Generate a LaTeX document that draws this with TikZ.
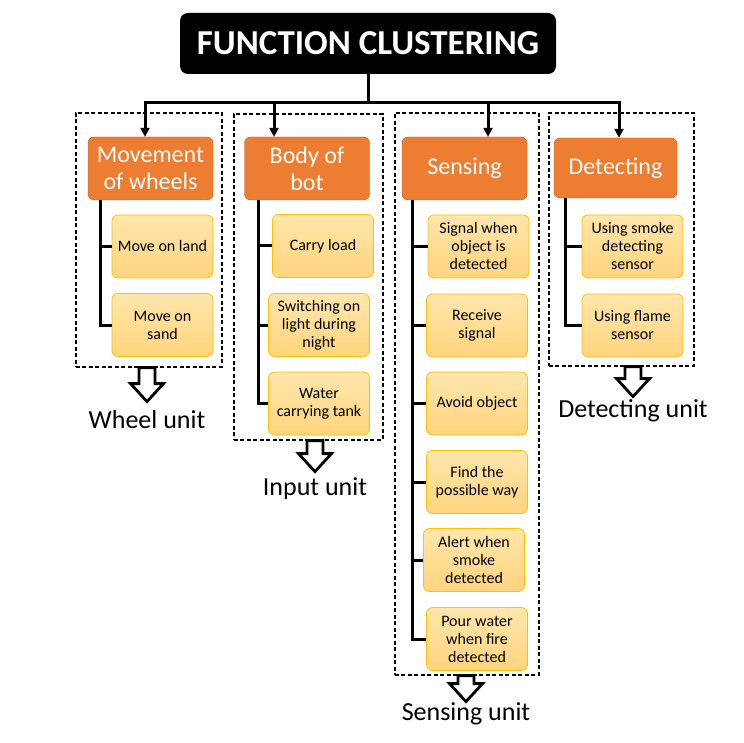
\documentclass[tikz,border=0pt]{standalone}
\usepackage{fontspec}
\setmainfont{Carlito}
\usetikzlibrary{arrows.meta, positioning, calc}
\definecolor{headorange}{RGB}{237, 125, 49}
\definecolor{headedge}{RGB}{197, 90, 17}
\definecolor{itemedge}{RGB}{255, 192, 0}
\definecolor{itemtop}{RGB}{255, 230, 172}
\definecolor{itembot}{RGB}{255, 212, 125}

\begin{document}
\begin{tikzpicture}[x=1pt, y=-1pt,
  title/.style={fill=black, rounded corners=8pt, text=white, font=\fontsize{35}{40}\selectfont\bfseries, minimum width=376pt, minimum height=61pt, inner sep=0pt},
  head/.style={draw=headedge, fill=headorange, rounded corners=6pt, text=white, font=\fontsize{24}{27}\selectfont, minimum width=125pt, minimum height=63pt, align=center, inner sep=0pt},
  item/.style={draw=itemedge, line width=0.8pt, top color=itemtop, bottom color=itembot, rounded corners=6pt, font=\fontsize{16}{18}\selectfont, minimum width=101pt, minimum height=63pt, align=center, inner sep=0pt},
  group/.style={draw, line width=1.6pt, dash pattern=on 4pt off 2.5pt, inner sep=0pt, anchor=north west},
  unit/.style={font=\fontsize{26}{30}\selectfont},
  feed/.style={line width=3pt},
  spine/.style={line width=3pt},
  blockarrow/.style={draw, fill=white, line width=2.8pt, line join=miter}
]
  \useasboundingbox (0, 0) rectangle (744, 743);

  % Title
  \node[title] (title) at (368, 43.5) {FUNCTION CLUSTERING};
  \coordinate (bus) at (368, 103);

  % Dashed groups
  \node[group, minimum width=146pt, minimum height=254pt] (g1) at (75, 112) {};
  \node[group, minimum width=149pt, minimum height=326pt] (g2) at (233, 113) {};
  \node[group, minimum width=144pt, minimum height=562pt] (g3) at (394, 112) {};
  \node[group, minimum width=145pt, minimum height=253pt] (g4) at (548, 112) {};

  % Headers
  \node[head] (wheels) at (150.5, 168.5) {Movement\\of wheels};
  \node[head] (body) at (307, 168.5) {Body of\\bot};
  \node[head] (sensing) at (464.5, 168.5) {Sensing};
  \node[head, minimum width=123pt, minimum height=60pt] (detecting) at (615.5, 168) {Detecting};

  % Wheel items
  \node[item] (land) at (162.5, 246.5) {Move on land};
  \node[item] (sand) at (162.5, 325) {Move on\\sand};

  % Body items
  \node[item] (load) at (323, 246) {Carry load};
  \node[item] (light) at (319, 325) {Switching on\\light during\\night};
  \node[item] (tank) at (319, 403.5) {Water\\carrying tank};

  % Sensing items
  \node[item] (signal) at (478.5, 246.5) {Signal when\\object is\\detected};
  \node[item] (receive) at (477, 325.5) {Receive\\signal};
  \node[item] (avoid) at (477, 403.5) {Avoid object};
  \node[item] (way) at (477, 482) {Find the\\possible way};
  \node[item] (alert) at (474, 560) {Alert when\\smoke\\detected};
  \node[item] (pour) at (477, 639) {Pour water\\when fire\\detected};

  % Detecting items
  \node[item] (smoke) at (632.5, 246.5) {Using smoke\\detecting\\sensor};
  \node[item] (flame) at (632.5, 325.5) {Using flame\\sensor};

  % Unit labels
  \node[unit] (wheelunit) at (147, 420) {Wheel unit};
  \node[unit] (inputunit) at (315, 489) {Input unit};
  \node[unit] (sensingunit) at (466, 714) {Sensing unit};
  \node[unit] (detectingunit) at (633, 411) {Detecting unit};

  % Title feeds
  \coordinate (f1) at ([xshift=-5.5pt]wheels.north);
  \coordinate (f2) at ([xshift=-33pt]body.north);
  \coordinate (f3) at ([xshift=23.5pt]sensing.north);
  \coordinate (f4) at ([xshift=3.5pt]detecting.north);
  \draw[feed] (title.south) -- (bus);
  \draw[feed, line cap=rect] (f1 |- bus) -- (f4 |- bus);
  \foreach \f in {f1, f2, f3, f4}
    \draw[feed, -{Triangle[length=9pt, width=9pt]}] (\f |- bus) -- (\f);

  % Spines
  \coordinate (s1) at ([xshift=13pt]wheels.south west);
  \coordinate (s2) at ([xshift=14pt]body.south west);
  \coordinate (s3) at ([xshift=11pt]sensing.south west);
  \coordinate (s4) at ([xshift=12pt]detecting.south west);
  \draw[spine] (s1) |- (sand.west);
  \draw[spine] (s1 |- land.west) -- (land.west);
  \draw[spine] (s2) |- (tank.west);
  \foreach \i in {load, light}
    \draw[spine] (s2 |- \i.west) -- (\i.west);
  \draw[spine] (s3) |- (pour.west);
  \foreach \i in {signal, receive, avoid, way, alert}
    \draw[spine] (s3 |- \i.west) -- (\i.west);
  \draw[spine] (s4) |- (flame.west);
  \draw[spine] (s4 |- smoke.west) -- (smoke.west);

  % Unit arrows
  \foreach \g/\u/\len in {g1/wheelunit/34, g2/inputunit/31, g3/sensingunit/26, g4/detectingunit/30}
    \draw[blockarrow] (\g.south -| \u.north) ++(-8, 0) -- ++(0, \len-18) -- ++(-8.5, 0)
      -- ++(16.5, 18) -- ++(16.5, -18) -- ++(-8.5, 0) -- ++(0, 18-\len) -- cycle;
\end{tikzpicture}
\end{document}
